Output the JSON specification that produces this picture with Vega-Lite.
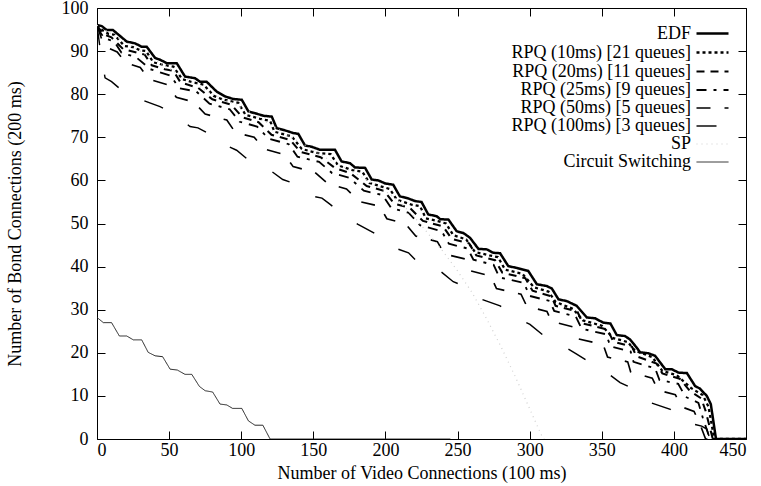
{
  "$schema": "https://vega.github.io/schema/vega-lite/v6.json",
  "autosize": {"type": "none"},
  "padding": {"left": 97, "top": 8, "right": 15, "bottom": 47},
  "width": 649,
  "height": 431,
  "background": "white",
  "config": {
    "view": {"stroke": "black", "strokeWidth": 1},
    "font": "Liberation Serif",
    "axis": {"labelFont": "Liberation Serif", "titleFont": "Liberation Serif", "labelFontSize": 18, "titleFontSize": 18, "titleFontWeight": "normal", "labelColor": "black", "titleColor": "black", "domain": false, "grid": false, "tickColor": "black", "tickSize": -8},
    "legend": {"labelFont": "Liberation Serif", "labelFontSize": 18, "labelColor": "black", "labelLimit": 400}
  },
  "data": {"values": [
    {"s":"EDF","x":0,"y":96.1},{"s":"EDF","x":3.2,"y":95.8},{"s":"EDF","x":6.7,"y":94.9},{"s":"EDF","x":11,"y":94.9},{"s":"EDF","x":20.6,"y":92.2},{"s":"EDF","x":26.4,"y":91.8},{"s":"EDF","x":31,"y":91},{"s":"EDF","x":34.5,"y":91},{"s":"EDF","x":40.3,"y":88.4},{"s":"EDF","x":43.7,"y":88},{"s":"EDF","x":48.4,"y":87.2},{"s":"EDF","x":55.3,"y":87.2},{"s":"EDF","x":61,"y":84.1},{"s":"EDF","x":68,"y":83.7},{"s":"EDF","x":71.4,"y":82.9},{"s":"EDF","x":76,"y":82.9},{"s":"EDF","x":83,"y":80.6},{"s":"EDF","x":88.7,"y":79.5},{"s":"EDF","x":94.3,"y":78.9},{"s":"EDF","x":100.4,"y":78.7},{"s":"EDF","x":105,"y":76},{"s":"EDF","x":109.5,"y":75.6},{"s":"EDF","x":115.3,"y":75},{"s":"EDF","x":121.2,"y":74.8},{"s":"EDF","x":124.6,"y":72.1},{"s":"EDF","x":130.4,"y":71.6},{"s":"EDF","x":136,"y":71},{"s":"EDF","x":139.6,"y":70.8},{"s":"EDF","x":144.2,"y":68.1},{"s":"EDF","x":148.9,"y":67.8},{"s":"EDF","x":154.6,"y":67.1},{"s":"EDF","x":165,"y":67.1},{"s":"EDF","x":169.6,"y":64.4},{"s":"EDF","x":175.4,"y":64},{"s":"EDF","x":178.9,"y":63},{"s":"EDF","x":185.9,"y":62.9},{"s":"EDF","x":190.5,"y":60.2},{"s":"EDF","x":195,"y":60},{"s":"EDF","x":199.8,"y":59.3},{"s":"EDF","x":205.4,"y":59},{"s":"EDF","x":210,"y":56.3},{"s":"EDF","x":215.9,"y":55.8},{"s":"EDF","x":220.5,"y":55.2},{"s":"EDF","x":225,"y":55},{"s":"EDF","x":229.7,"y":52.1},{"s":"EDF","x":235.5,"y":51.7},{"s":"EDF","x":238,"y":51},{"s":"EDF","x":243.7,"y":50.9},{"s":"EDF","x":249.4,"y":48.2},{"s":"EDF","x":254,"y":47.8},{"s":"EDF","x":258.6,"y":46.7},{"s":"EDF","x":264.5,"y":44.1},{"s":"EDF","x":270.2,"y":44},{"s":"EDF","x":274.8,"y":43.2},{"s":"EDF","x":279.5,"y":43.1},{"s":"EDF","x":285.2,"y":40.1},{"s":"EDF","x":291,"y":39.7},{"s":"EDF","x":299,"y":39},{"s":"EDF","x":305,"y":35.9},{"s":"EDF","x":311.8,"y":35.5},{"s":"EDF","x":315.4,"y":34.9},{"s":"EDF","x":320,"y":32.4},{"s":"EDF","x":325.7,"y":32},{"s":"EDF","x":332.6,"y":30.9},{"s":"EDF","x":339.6,"y":28.2},{"s":"EDF","x":345.4,"y":28},{"s":"EDF","x":351,"y":27},{"s":"EDF","x":356,"y":26.8},{"s":"EDF","x":360.4,"y":24.1},{"s":"EDF","x":366,"y":23.9},{"s":"EDF","x":369.6,"y":23.1},{"s":"EDF","x":374.2,"y":21.2},{"s":"EDF","x":376.6,"y":20.1},{"s":"EDF","x":382.3,"y":19.9},{"s":"EDF","x":387,"y":19.3},{"s":"EDF","x":394,"y":16.2},{"s":"EDF","x":398.5,"y":16.2},{"s":"EDF","x":403.2,"y":15.4},{"s":"EDF","x":409,"y":15.3},{"s":"EDF","x":414.7,"y":12.3},{"s":"EDF","x":418,"y":11.7},{"s":"EDF","x":422.8,"y":10},{"s":"EDF","x":425.6,"y":8.1},{"s":"EDF","x":429.2,"y":0},{"s":"EDF","x":450,"y":0},

    {"s":"RPQ (10ms) [21 queues]","x":0,"y":96},{"s":"RPQ (10ms) [21 queues]","x":3,"y":95},{"s":"RPQ (10ms) [21 queues]","x":8,"y":94},{"s":"RPQ (10ms) [21 queues]","x":12,"y":93.8},{"s":"RPQ (10ms) [21 queues]","x":19,"y":91.2},{"s":"RPQ (10ms) [21 queues]","x":25,"y":90.9},{"s":"RPQ (10ms) [21 queues]","x":30,"y":90.2},{"s":"RPQ (10ms) [21 queues]","x":34,"y":90},{"s":"RPQ (10ms) [21 queues]","x":39,"y":87.4},{"s":"RPQ (10ms) [21 queues]","x":46,"y":86.8},{"s":"RPQ (10ms) [21 queues]","x":53,"y":86.4},{"s":"RPQ (10ms) [21 queues]","x":59,"y":83.5},{"s":"RPQ (10ms) [21 queues]","x":66,"y":82.8},{"s":"RPQ (10ms) [21 queues]","x":74,"y":82.2},{"s":"RPQ (10ms) [21 queues]","x":81,"y":79.6},{"s":"RPQ (10ms) [21 queues]","x":87,"y":78.8},{"s":"RPQ (10ms) [21 queues]","x":98,"y":78},{"s":"RPQ (10ms) [21 queues]","x":103,"y":75.2},{"s":"RPQ (10ms) [21 queues]","x":113,"y":74.3},{"s":"RPQ (10ms) [21 queues]","x":120,"y":73.8},{"s":"RPQ (10ms) [21 queues]","x":123,"y":71.3},{"s":"RPQ (10ms) [21 queues]","x":135,"y":70.2},{"s":"RPQ (10ms) [21 queues]","x":142,"y":67.3},{"s":"RPQ (10ms) [21 queues]","x":152,"y":66.4},{"s":"RPQ (10ms) [21 queues]","x":162,"y":66.1},{"s":"RPQ (10ms) [21 queues]","x":167,"y":63.5},{"s":"RPQ (10ms) [21 queues]","x":177,"y":62.4},{"s":"RPQ (10ms) [21 queues]","x":184,"y":62},{"s":"RPQ (10ms) [21 queues]","x":189,"y":59.4},{"s":"RPQ (10ms) [21 queues]","x":198,"y":58.5},{"s":"RPQ (10ms) [21 queues]","x":203,"y":58},{"s":"RPQ (10ms) [21 queues]","x":208,"y":55.5},{"s":"RPQ (10ms) [21 queues]","x":218,"y":54.4},{"s":"RPQ (10ms) [21 queues]","x":224,"y":54},{"s":"RPQ (10ms) [21 queues]","x":228,"y":51.2},{"s":"RPQ (10ms) [21 queues]","x":237,"y":50.5},{"s":"RPQ (10ms) [21 queues]","x":242,"y":50},{"s":"RPQ (10ms) [21 queues]","x":247,"y":47.3},{"s":"RPQ (10ms) [21 queues]","x":256,"y":46.3},{"s":"RPQ (10ms) [21 queues]","x":262,"y":43.4},{"s":"RPQ (10ms) [21 queues]","x":272,"y":42.6},{"s":"RPQ (10ms) [21 queues]","x":278,"y":42.2},{"s":"RPQ (10ms) [21 queues]","x":283,"y":39.3},{"s":"RPQ (10ms) [21 queues]","x":295,"y":38.3},{"s":"RPQ (10ms) [21 queues]","x":303,"y":35.2},{"s":"RPQ (10ms) [21 queues]","x":313,"y":34.2},{"s":"RPQ (10ms) [21 queues]","x":318,"y":31.8},{"s":"RPQ (10ms) [21 queues]","x":330,"y":30.2},{"s":"RPQ (10ms) [21 queues]","x":337,"y":27.5},{"s":"RPQ (10ms) [21 queues]","x":350,"y":26.3},{"s":"RPQ (10ms) [21 queues]","x":358,"y":23.4},{"s":"RPQ (10ms) [21 queues]","x":368,"y":22.5},{"s":"RPQ (10ms) [21 queues]","x":373,"y":20.5},{"s":"RPQ (10ms) [21 queues]","x":385,"y":19},{"s":"RPQ (10ms) [21 queues]","x":392,"y":15.8},{"s":"RPQ (10ms) [21 queues]","x":402,"y":14.8},{"s":"RPQ (10ms) [21 queues]","x":412,"y":11.8},{"s":"RPQ (10ms) [21 queues]","x":420,"y":10.2},{"s":"RPQ (10ms) [21 queues]","x":424,"y":7.5},{"s":"RPQ (10ms) [21 queues]","x":428,"y":0},{"s":"RPQ (10ms) [21 queues]","x":450,"y":0},

    {"s":"RPQ (20ms) [11 queues]","x":0,"y":96},{"s":"RPQ (20ms) [11 queues]","x":4,"y":94},{"s":"RPQ (20ms) [11 queues]","x":10,"y":93.2},{"s":"RPQ (20ms) [11 queues]","x":18,"y":90.5},{"s":"RPQ (20ms) [11 queues]","x":28,"y":89.6},{"s":"RPQ (20ms) [11 queues]","x":33,"y":89.2},{"s":"RPQ (20ms) [11 queues]","x":38,"y":86.7},{"s":"RPQ (20ms) [11 queues]","x":47,"y":85.8},{"s":"RPQ (20ms) [11 queues]","x":53,"y":85.4},{"s":"RPQ (20ms) [11 queues]","x":58,"y":82.7},{"s":"RPQ (20ms) [11 queues]","x":70,"y":81.5},{"s":"RPQ (20ms) [11 queues]","x":80,"y":78.8},{"s":"RPQ (20ms) [11 queues]","x":93,"y":77.6},{"s":"RPQ (20ms) [11 queues]","x":101,"y":74.6},{"s":"RPQ (20ms) [11 queues]","x":112,"y":73.5},{"s":"RPQ (20ms) [11 queues]","x":121,"y":70.6},{"s":"RPQ (20ms) [11 queues]","x":134,"y":69.4},{"s":"RPQ (20ms) [11 queues]","x":141,"y":66.6},{"s":"RPQ (20ms) [11 queues]","x":155,"y":65.4},{"s":"RPQ (20ms) [11 queues]","x":165,"y":62.9},{"s":"RPQ (20ms) [11 queues]","x":176,"y":61.6},{"s":"RPQ (20ms) [11 queues]","x":187,"y":58.7},{"s":"RPQ (20ms) [11 queues]","x":199,"y":57.6},{"s":"RPQ (20ms) [11 queues]","x":206,"y":54.6},{"s":"RPQ (20ms) [11 queues]","x":217,"y":53.6},{"s":"RPQ (20ms) [11 queues]","x":226,"y":50.6},{"s":"RPQ (20ms) [11 queues]","x":240,"y":49.3},{"s":"RPQ (20ms) [11 queues]","x":246,"y":46.4},{"s":"RPQ (20ms) [11 queues]","x":258,"y":45.4},{"s":"RPQ (20ms) [11 queues]","x":263,"y":42.6},{"s":"RPQ (20ms) [11 queues]","x":276,"y":41.5},{"s":"RPQ (20ms) [11 queues]","x":281,"y":38.6},{"s":"RPQ (20ms) [11 queues]","x":297,"y":37.3},{"s":"RPQ (20ms) [11 queues]","x":302,"y":34.4},{"s":"RPQ (20ms) [11 queues]","x":315,"y":33.1},{"s":"RPQ (20ms) [11 queues]","x":318,"y":30.9},{"s":"RPQ (20ms) [11 queues]","x":333,"y":29.6},{"s":"RPQ (20ms) [11 queues]","x":337,"y":26.8},{"s":"RPQ (20ms) [11 queues]","x":354,"y":25.4},{"s":"RPQ (20ms) [11 queues]","x":358,"y":22.6},{"s":"RPQ (20ms) [11 queues]","x":371,"y":21.4},{"s":"RPQ (20ms) [11 queues]","x":374,"y":19.2},{"s":"RPQ (20ms) [11 queues]","x":388,"y":17.5},{"s":"RPQ (20ms) [11 queues]","x":392,"y":15.2},{"s":"RPQ (20ms) [11 queues]","x":404,"y":14},{"s":"RPQ (20ms) [11 queues]","x":411,"y":11.2},{"s":"RPQ (20ms) [11 queues]","x":419,"y":9.4},{"s":"RPQ (20ms) [11 queues]","x":422,"y":6.5},{"s":"RPQ (20ms) [11 queues]","x":427,"y":0},{"s":"RPQ (20ms) [11 queues]","x":450,"y":0},

    {"s":"RPQ (25ms) [9 queues]","x":0,"y":95.5},{"s":"RPQ (25ms) [9 queues]","x":5,"y":93},{"s":"RPQ (25ms) [9 queues]","x":12,"y":92.2},{"s":"RPQ (25ms) [9 queues]","x":17,"y":89.6},{"s":"RPQ (25ms) [9 queues]","x":27,"y":88.6},{"s":"RPQ (25ms) [9 queues]","x":37,"y":85.8},{"s":"RPQ (25ms) [9 queues]","x":51,"y":84.3},{"s":"RPQ (25ms) [9 queues]","x":57,"y":81.4},{"s":"RPQ (25ms) [9 queues]","x":69,"y":80.6},{"s":"RPQ (25ms) [9 queues]","x":78,"y":77.8},{"s":"RPQ (25ms) [9 queues]","x":92,"y":76.5},{"s":"RPQ (25ms) [9 queues]","x":99,"y":73.6},{"s":"RPQ (25ms) [9 queues]","x":111,"y":72.5},{"s":"RPQ (25ms) [9 queues]","x":119,"y":69.7},{"s":"RPQ (25ms) [9 queues]","x":133,"y":68.4},{"s":"RPQ (25ms) [9 queues]","x":139,"y":65.5},{"s":"RPQ (25ms) [9 queues]","x":154,"y":64.3},{"s":"RPQ (25ms) [9 queues]","x":163,"y":61.7},{"s":"RPQ (25ms) [9 queues]","x":175,"y":60.6},{"s":"RPQ (25ms) [9 queues]","x":185,"y":57.6},{"s":"RPQ (25ms) [9 queues]","x":198,"y":56.6},{"s":"RPQ (25ms) [9 queues]","x":204,"y":53.6},{"s":"RPQ (25ms) [9 queues]","x":216,"y":52.5},{"s":"RPQ (25ms) [9 queues]","x":224,"y":49.6},{"s":"RPQ (25ms) [9 queues]","x":239,"y":48.2},{"s":"RPQ (25ms) [9 queues]","x":244,"y":45.3},{"s":"RPQ (25ms) [9 queues]","x":257,"y":44.2},{"s":"RPQ (25ms) [9 queues]","x":261,"y":41.6},{"s":"RPQ (25ms) [9 queues]","x":275,"y":40.4},{"s":"RPQ (25ms) [9 queues]","x":279,"y":37.5},{"s":"RPQ (25ms) [9 queues]","x":296,"y":36.2},{"s":"RPQ (25ms) [9 queues]","x":300,"y":33.2},{"s":"RPQ (25ms) [9 queues]","x":314,"y":32},{"s":"RPQ (25ms) [9 queues]","x":317,"y":29.7},{"s":"RPQ (25ms) [9 queues]","x":332,"y":28.4},{"s":"RPQ (25ms) [9 queues]","x":336,"y":25.6},{"s":"RPQ (25ms) [9 queues]","x":353,"y":24.3},{"s":"RPQ (25ms) [9 queues]","x":356,"y":21.5},{"s":"RPQ (25ms) [9 queues]","x":370,"y":20.3},{"s":"RPQ (25ms) [9 queues]","x":372,"y":17.9},{"s":"RPQ (25ms) [9 queues]","x":387,"y":16.4},{"s":"RPQ (25ms) [9 queues]","x":390,"y":13.7},{"s":"RPQ (25ms) [9 queues]","x":403,"y":12.8},{"s":"RPQ (25ms) [9 queues]","x":408,"y":9.8},{"s":"RPQ (25ms) [9 queues]","x":417,"y":8.4},{"s":"RPQ (25ms) [9 queues]","x":420,"y":5},{"s":"RPQ (25ms) [9 queues]","x":425,"y":0},{"s":"RPQ (25ms) [9 queues]","x":450,"y":0},

    {"s":"RPQ (50ms) [5 queues]","x":0,"y":96},{"s":"RPQ (50ms) [5 queues]","x":3,"y":93},{"s":"RPQ (50ms) [5 queues]","x":6,"y":91},{"s":"RPQ (50ms) [5 queues]","x":14,"y":89.8},{"s":"RPQ (50ms) [5 queues]","x":20,"y":87.3},{"s":"RPQ (50ms) [5 queues]","x":30,"y":86.2},{"s":"RPQ (50ms) [5 queues]","x":36,"y":83.5},{"s":"RPQ (50ms) [5 queues]","x":49,"y":82.2},{"s":"RPQ (50ms) [5 queues]","x":55,"y":79.3},{"s":"RPQ (50ms) [5 queues]","x":67,"y":78.2},{"s":"RPQ (50ms) [5 queues]","x":75,"y":75.4},{"s":"RPQ (50ms) [5 queues]","x":90,"y":74},{"s":"RPQ (50ms) [5 queues]","x":96,"y":71.1},{"s":"RPQ (50ms) [5 queues]","x":109,"y":70},{"s":"RPQ (50ms) [5 queues]","x":116,"y":67.3},{"s":"RPQ (50ms) [5 queues]","x":130,"y":66},{"s":"RPQ (50ms) [5 queues]","x":136,"y":63.2},{"s":"RPQ (50ms) [5 queues]","x":151,"y":61.9},{"s":"RPQ (50ms) [5 queues]","x":160,"y":59.3},{"s":"RPQ (50ms) [5 queues]","x":173,"y":58},{"s":"RPQ (50ms) [5 queues]","x":182,"y":55.1},{"s":"RPQ (50ms) [5 queues]","x":196,"y":54},{"s":"RPQ (50ms) [5 queues]","x":201,"y":51.1},{"s":"RPQ (50ms) [5 queues]","x":214,"y":49.9},{"s":"RPQ (50ms) [5 queues]","x":221,"y":47.1},{"s":"RPQ (50ms) [5 queues]","x":236,"y":45.8},{"s":"RPQ (50ms) [5 queues]","x":241,"y":42.9},{"s":"RPQ (50ms) [5 queues]","x":255,"y":41.8},{"s":"RPQ (50ms) [5 queues]","x":259,"y":39},{"s":"RPQ (50ms) [5 queues]","x":273,"y":37.8},{"s":"RPQ (50ms) [5 queues]","x":277,"y":34.9},{"s":"RPQ (50ms) [5 queues]","x":294,"y":33.6},{"s":"RPQ (50ms) [5 queues]","x":298,"y":30.8},{"s":"RPQ (50ms) [5 queues]","x":312,"y":29.6},{"s":"RPQ (50ms) [5 queues]","x":315,"y":27.3},{"s":"RPQ (50ms) [5 queues]","x":330,"y":26},{"s":"RPQ (50ms) [5 queues]","x":334,"y":23.2},{"s":"RPQ (50ms) [5 queues]","x":351,"y":21.9},{"s":"RPQ (50ms) [5 queues]","x":354,"y":19},{"s":"RPQ (50ms) [5 queues]","x":368,"y":17.9},{"s":"RPQ (50ms) [5 queues]","x":370,"y":15.6},{"s":"RPQ (50ms) [5 queues]","x":385,"y":14.1},{"s":"RPQ (50ms) [5 queues]","x":389,"y":11.3},{"s":"RPQ (50ms) [5 queues]","x":401,"y":10.3},{"s":"RPQ (50ms) [5 queues]","x":405,"y":7.5},{"s":"RPQ (50ms) [5 queues]","x":414,"y":6.4},{"s":"RPQ (50ms) [5 queues]","x":418,"y":3.5},{"s":"RPQ (50ms) [5 queues]","x":422,"y":0},{"s":"RPQ (50ms) [5 queues]","x":450,"y":0},

    {"s":"RPQ (100ms) [3 queues]","x":0,"y":96},{"s":"RPQ (100ms) [3 queues]","x":2,"y":91},{"s":"RPQ (100ms) [3 queues]","x":4.2,"y":86.3},{"s":"RPQ (100ms) [3 queues]","x":5.6,"y":83.8},{"s":"RPQ (100ms) [3 queues]","x":10.1,"y":82.9},{"s":"RPQ (100ms) [3 queues]","x":20,"y":80.1},{"s":"RPQ (100ms) [3 queues]","x":26.4,"y":79.9},{"s":"RPQ (100ms) [3 queues]","x":31,"y":78.7},{"s":"RPQ (100ms) [3 queues]","x":43.7,"y":77.1},{"s":"RPQ (100ms) [3 queues]","x":48.4,"y":76.4},{"s":"RPQ (100ms) [3 queues]","x":54,"y":75.2},{"s":"RPQ (100ms) [3 queues]","x":64.5,"y":72.5},{"s":"RPQ (100ms) [3 queues]","x":70,"y":72.2},{"s":"RPQ (100ms) [3 queues]","x":76,"y":71.1},{"s":"RPQ (100ms) [3 queues]","x":85.2,"y":67.9},{"s":"RPQ (100ms) [3 queues]","x":90.8,"y":67.9},{"s":"RPQ (100ms) [3 queues]","x":96.8,"y":67},{"s":"RPQ (100ms) [3 queues]","x":107.3,"y":64.1},{"s":"RPQ (100ms) [3 queues]","x":112.6,"y":63.7},{"s":"RPQ (100ms) [3 queues]","x":118.6,"y":62.7},{"s":"RPQ (100ms) [3 queues]","x":128.8,"y":60.2},{"s":"RPQ (100ms) [3 queues]","x":134.9,"y":59.5},{"s":"RPQ (100ms) [3 queues]","x":141,"y":58.6},{"s":"RPQ (100ms) [3 queues]","x":150,"y":56.3},{"s":"RPQ (100ms) [3 queues]","x":156,"y":55.9},{"s":"RPQ (100ms) [3 queues]","x":161,"y":54.6},{"s":"RPQ (100ms) [3 queues]","x":172,"y":51.7},{"s":"RPQ (100ms) [3 queues]","x":181,"y":49.8},{"s":"RPQ (100ms) [3 queues]","x":193.7,"y":47.5},{"s":"RPQ (100ms) [3 queues]","x":199.8,"y":45.1},{"s":"RPQ (100ms) [3 queues]","x":216,"y":43.2},{"s":"RPQ (100ms) [3 queues]","x":224,"y":40.5},{"s":"RPQ (100ms) [3 queues]","x":237.9,"y":39},{"s":"RPQ (100ms) [3 queues]","x":247,"y":36.5},{"s":"RPQ (100ms) [3 queues]","x":257.5,"y":35.1},{"s":"RPQ (100ms) [3 queues]","x":266.7,"y":32.4},{"s":"RPQ (100ms) [3 queues]","x":279.5,"y":30.9},{"s":"RPQ (100ms) [3 queues]","x":290,"y":28.2},{"s":"RPQ (100ms) [3 queues]","x":300.2,"y":26.6},{"s":"RPQ (100ms) [3 queues]","x":310,"y":23.9},{"s":"RPQ (100ms) [3 queues]","x":321,"y":22},{"s":"RPQ (100ms) [3 queues]","x":332.6,"y":19.7},{"s":"RPQ (100ms) [3 queues]","x":341.7,"y":17.8},{"s":"RPQ (100ms) [3 queues]","x":353.5,"y":15.4},{"s":"RPQ (100ms) [3 queues]","x":362.7,"y":13.1},{"s":"RPQ (100ms) [3 queues]","x":375,"y":11.2},{"s":"RPQ (100ms) [3 queues]","x":383.3,"y":8.5},{"s":"RPQ (100ms) [3 queues]","x":397.5,"y":6.9},{"s":"RPQ (100ms) [3 queues]","x":404.3,"y":4.2},{"s":"RPQ (100ms) [3 queues]","x":419.3,"y":3},{"s":"RPQ (100ms) [3 queues]","x":422.8,"y":2.3},{"s":"RPQ (100ms) [3 queues]","x":425,"y":0},{"s":"RPQ (100ms) [3 queues]","x":450,"y":0},

    {"s":"SP","x":0,"y":96},{"s":"SP","x":20,"y":92},{"s":"SP","x":40,"y":88},{"s":"SP","x":60,"y":84},{"s":"SP","x":80,"y":80},{"s":"SP","x":100,"y":77},{"s":"SP","x":120,"y":73},{"s":"SP","x":140,"y":69},{"s":"SP","x":160,"y":65},{"s":"SP","x":180,"y":61.5},{"s":"SP","x":200,"y":57.5},{"s":"SP","x":210,"y":55},{"s":"SP","x":220,"y":51.5},{"s":"SP","x":230,"y":47.5},{"s":"SP","x":240,"y":43.5},{"s":"SP","x":250,"y":39},{"s":"SP","x":260,"y":34},{"s":"SP","x":270,"y":28},{"s":"SP","x":280,"y":21.5},{"s":"SP","x":290,"y":14.5},{"s":"SP","x":298,"y":8.5},{"s":"SP","x":304,"y":4},{"s":"SP","x":308,"y":1},{"s":"SP","x":310,"y":0},

    {"s":"Circuit Switching","x":0,"y":28.2},{"s":"Circuit Switching","x":4.4,"y":27},{"s":"Circuit Switching","x":10.1,"y":27},{"s":"Circuit Switching","x":15.5,"y":23.9},{"s":"Circuit Switching","x":20.6,"y":23.9},{"s":"Circuit Switching","x":25.2,"y":23},{"s":"Circuit Switching","x":31,"y":23},{"s":"Circuit Switching","x":35.5,"y":20.1},{"s":"Circuit Switching","x":40.3,"y":19.3},{"s":"Circuit Switching","x":45.5,"y":19.1},{"s":"Circuit Switching","x":50.7,"y":16.2},{"s":"Circuit Switching","x":55.7,"y":16},{"s":"Circuit Switching","x":61,"y":15},{"s":"Circuit Switching","x":65.7,"y":15},{"s":"Circuit Switching","x":71,"y":12.2},{"s":"Circuit Switching","x":75,"y":11.2},{"s":"Circuit Switching","x":80.2,"y":10.9},{"s":"Circuit Switching","x":85.3,"y":8.1},{"s":"Circuit Switching","x":90,"y":7.9},{"s":"Circuit Switching","x":94,"y":7.1},{"s":"Circuit Switching","x":100.4,"y":7.1},{"s":"Circuit Switching","x":105,"y":4.2},{"s":"Circuit Switching","x":109.5,"y":3.2},{"s":"Circuit Switching","x":115,"y":3.2},{"s":"Circuit Switching","x":120,"y":0},{"s":"Circuit Switching","x":245,"y":0}
  ]},
  "layer": [
    {
      "mark": {"type": "line", "clip": true},
      "encoding": {
        "x": {"field": "x", "type": "quantitative", "scale": {"domain": [0, 450], "nice": false, "zero": false},
              "axis": {"orient": "bottom", "values": [0,50,100,150,200,250,300,350,400,450], "title": "Number of Video Connections (100 ms)", "labelPadding": 10, "titlePadding": 5}},
        "y": {"field": "y", "type": "quantitative", "scale": {"domain": [0, 100], "nice": false},
              "axis": {"orient": "left", "values": [0,10,20,30,40,50,60,70,80,90,100], "title": "Number of Bond Connections (200 ms)", "labelPadding": 17, "titlePadding": 37}},
        "color": {"field": "s", "type": "nominal",
          "scale": {"domain": ["EDF","RPQ (10ms) [21 queues]","RPQ (20ms) [11 queues]","RPQ (25ms) [9 queues]","RPQ (50ms) [5 queues]","RPQ (100ms) [3 queues]","SP","Circuit Switching"],
                    "range": ["#000000","#000000","#000000","#000000","#000000","#000000","#d0d0d0","#222222"]},
          "legend": {"title": null, "orient": "none", "legendX": 606, "legendY": 16, "symbolType": "M-2,0H2", "symbolSize": 256, "labelAlign": "right", "labelOffset": -31, "rowPadding": -2, "padding": 0, "labelLimit": 400}},
        "strokeDash": {"field": "s", "type": "nominal",
          "scale": {"domain": ["EDF","RPQ (10ms) [21 queues]","RPQ (20ms) [11 queues]","RPQ (25ms) [9 queues]","RPQ (50ms) [5 queues]","RPQ (100ms) [3 queues]","SP","Circuit Switching"],
                    "range": [[1,0],[3,3],[8,6],[10,7,3,7],[14,14],[20,30],[1,4],[1,0]]},
          "legend": {"title": null, "orient": "none", "legendX": 606, "legendY": 16, "symbolType": "M-2,0H2", "symbolSize": 256, "labelAlign": "right", "labelOffset": -31, "rowPadding": -2, "padding": 0, "labelLimit": 400}},
        "strokeWidth": {"field": "s", "type": "nominal",
          "scale": {"domain": ["EDF","RPQ (10ms) [21 queues]","RPQ (20ms) [11 queues]","RPQ (25ms) [9 queues]","RPQ (50ms) [5 queues]","RPQ (100ms) [3 queues]","SP","Circuit Switching"],
                    "range": [2.5,1,1,1,1,1,1.2,1]},
          "legend": {"title": null, "orient": "none", "legendX": 606, "legendY": 16, "symbolType": "M-2,0H2", "symbolSize": 256, "labelAlign": "right", "labelOffset": -31, "rowPadding": -2, "padding": 0, "labelLimit": 400}}
      }
    },
    {
      "mark": {"type": "point", "opacity": 0},
      "encoding": {
        "x": {"field": "x", "type": "quantitative", "axis": {"orient": "top", "values": [0,50,100,150,200,250,300,350,400,450], "labels": false, "title": null}},
        "y": {"field": "y", "type": "quantitative", "axis": {"orient": "right", "values": [0,10,20,30,40,50,60,70,80,90,100], "labels": false, "title": null}}
      }
    }
  ],
  "resolve": {"axis": {"x": "independent", "y": "independent"}}
}
